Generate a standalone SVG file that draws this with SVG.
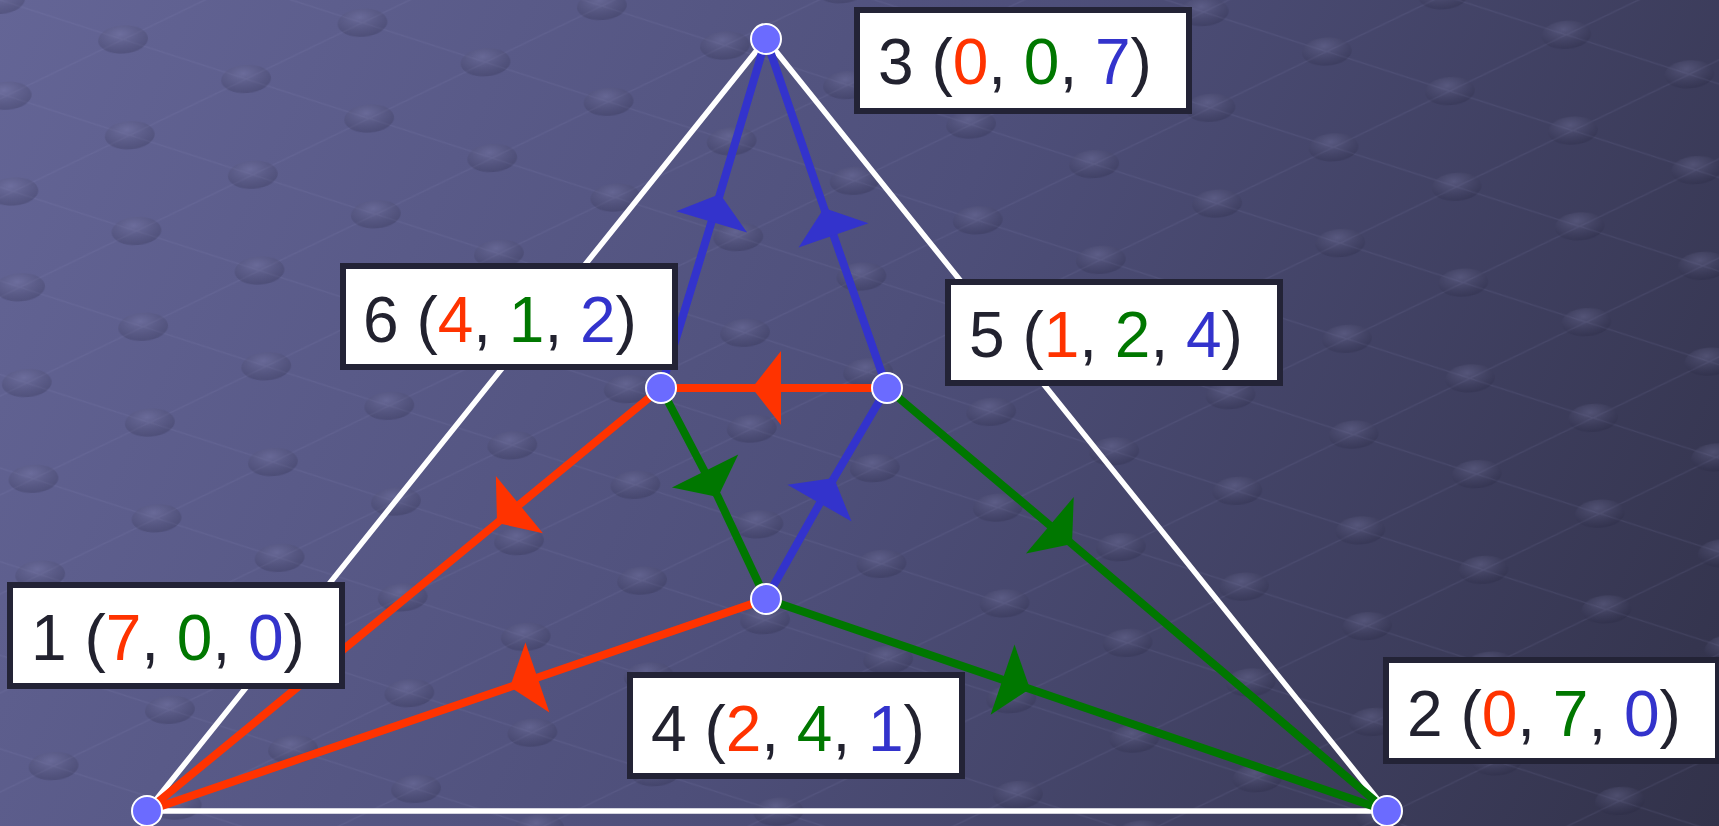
<svg xmlns="http://www.w3.org/2000/svg" width="1719" height="826" viewBox="0 0 1719 826">
<defs>
<linearGradient id="bg" x1="0" y1="0" x2="1719" y2="826" gradientUnits="userSpaceOnUse">
<stop offset="0" stop-color="#646596"/>
<stop offset="0.5" stop-color="#4e4f7a"/>
<stop offset="1" stop-color="#32324a"/>
</linearGradient>
<radialGradient id="dot" cx="0.45" cy="0.3" r="0.7">
<stop offset="0" stop-color="#8a8ab8" stop-opacity="0.3"/>
<stop offset="1" stop-color="#1e1e36" stop-opacity="0.22"/>
</radialGradient>
<pattern id="grid" width="240" height="96" patternUnits="userSpaceOnUse" patternTransform="rotate(-4)">
<path d="M0,0 L120,48 L240,0 M0,96 L120,48 L240,96" stroke="#9a9ac8" stroke-opacity="0.12" stroke-width="1.2" fill="none"/>
<ellipse cx="0" cy="0" rx="25" ry="14" fill="url(#dot)"/>
<ellipse cx="240" cy="0" rx="25" ry="14" fill="url(#dot)"/>
<ellipse cx="0" cy="96" rx="25" ry="14" fill="url(#dot)"/>
<ellipse cx="240" cy="96" rx="25" ry="14" fill="url(#dot)"/>
<ellipse cx="120" cy="48" rx="25" ry="14" fill="url(#dot)"/>
</pattern>
<marker id="ar" markerUnits="userSpaceOnUse" markerWidth="80" markerHeight="80" viewBox="-40 -40 80 80" refX="0" refY="0" orient="auto" overflow="visible">
<path d="M0,0 L-29,-37 L-29,37 Z" fill="#ff3300"/>
</marker>
<marker id="ag" markerUnits="userSpaceOnUse" markerWidth="80" markerHeight="80" viewBox="-40 -40 80 80" refX="0" refY="0" orient="auto" overflow="visible">
<path d="M0,0 L-29,-37 L-29,37 Z" fill="#007700"/>
</marker>
<marker id="ab" markerUnits="userSpaceOnUse" markerWidth="80" markerHeight="80" viewBox="-40 -40 80 80" refX="0" refY="0" orient="auto" overflow="visible">
<path d="M0,0 L-29,-37 L-29,37 Z" fill="#3333cc"/>
</marker>
<style>
.tri{stroke:#ffffff;stroke-width:5.5;fill:none;stroke-linecap:round}
.r{stroke:#ff3300;stroke-width:8;fill:none;marker-mid:url(#ar)}
.g{stroke:#007700;stroke-width:8;fill:none;marker-mid:url(#ag)}
.b{stroke:#3333cc;stroke-width:8;fill:none;marker-mid:url(#ab)}
.pt{fill:#6b6bff;stroke:#ffffff;stroke-width:2}
.box{fill:#ffffff;stroke:#232336;stroke-width:6}
.lbl{font-family:"Liberation Sans",Arial,sans-serif;font-size:64px;fill:#22222f}
.cr{fill:#ff3300}
.cg{fill:#007700}
.cb{fill:#3333cc}
</style>
</defs>
<rect x="0" y="0" width="1719" height="826" fill="url(#bg)"/>
<rect x="0" y="0" width="1719" height="826" fill="url(#grid)"/>
<g id="connectors">
<path class="tri" d="M147,811 L766,39 L1387,811 Z"/>
<path class="b" d="M661,388 L720,194 L766,39"/>
<path class="b" d="M887,388 L824,208 L766,39"/>
<path class="b" d="M766,599 L834,478 L887,388"/>
<path class="r" d="M887,388 L752,388 L661,388"/>
<path class="r" d="M661,388 L497,523 L147,811"/>
<path class="r" d="M766,599 L510,687 L147,811"/>
<path class="g" d="M661,388 L718,497 L766,599"/>
<path class="g" d="M887,388 L1072,544 L1387,811"/>
<path class="g" d="M766,599 L1030,689 L1387,811"/>
</g>
<g id="node1">
<circle class="pt" cx="147" cy="811" r="15"/>
<rect class="box" x="10" y="585" width="332" height="101"/>
<text class="lbl" x="31" y="660">1 (<tspan class="cr">7</tspan>, <tspan class="cg">0</tspan>, <tspan class="cb">0</tspan>)</text>
</g>
<g id="node2">
<circle class="pt" cx="1387" cy="811" r="15"/>
<rect class="box" x="1386" y="660" width="332" height="101"/>
<text class="lbl" x="1407" y="736">2 (<tspan class="cr">0</tspan>, <tspan class="cg">7</tspan>, <tspan class="cb">0</tspan>)</text>
</g>
<g id="node3">
<circle class="pt" cx="766" cy="39" r="15"/>
<rect class="box" x="857" y="10" width="332" height="101"/>
<text class="lbl" x="878" y="84">3 (<tspan class="cr">0</tspan>, <tspan class="cg">0</tspan>, <tspan class="cb">7</tspan>)</text>
</g>
<g id="node4">
<circle class="pt" cx="766" cy="599" r="15"/>
<rect class="box" x="630" y="675" width="332" height="101"/>
<text class="lbl" x="651" y="751">4 (<tspan class="cr">2</tspan>, <tspan class="cg">4</tspan>, <tspan class="cb">1</tspan>)</text>
</g>
<g id="node5">
<circle class="pt" cx="887" cy="388" r="15"/>
<rect class="box" x="948" y="282" width="332" height="101"/>
<text class="lbl" x="969" y="357">5 (<tspan class="cr">1</tspan>, <tspan class="cg">2</tspan>, <tspan class="cb">4</tspan>)</text>
</g>
<g id="node6">
<circle class="pt" cx="661" cy="388" r="15"/>
<rect class="box" x="343" y="266" width="332" height="101"/>
<text class="lbl" x="363" y="342">6 (<tspan class="cr">4</tspan>, <tspan class="cg">1</tspan>, <tspan class="cb">2</tspan>)</text>
</g>
</svg>
